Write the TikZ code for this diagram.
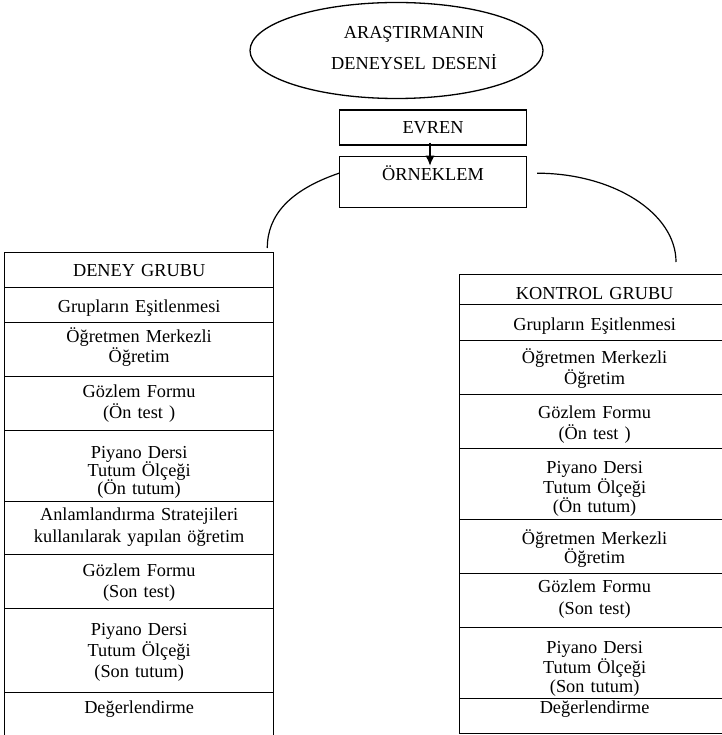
\documentclass[tikz,border=0pt]{standalone}
\usepackage{fontspec}
\setmainfont{Liberation Serif}
\usepackage{tikz}
\usetikzlibrary{shapes.geometric}
\usetikzlibrary{arrows.meta}

\tikzset{
	kutu/.style={draw,line width=1.3pt,anchor=north west,inner sep=0pt,align=center},
	dkutu/.style={kutu,text width=269pt},
	kkutu/.style={kutu,text width=270pt},
	egri/.style={line width=1.2pt},
}

\begin{document}
\begin{tikzpicture}[x=1pt,y=-1pt,every node/.style={font=\fontsize{18.3}{21.7}\selectfont}]
	\useasboundingbox (0,0) rectangle (721,735);
	% baslik
	\node[ellipse,draw,line width=1.3pt,minimum width=293pt,minimum height=96pt] (desen) at (396.5,50.5) {};
	\node[anchor=base,align=center,text width=220pt] (desenyazi) at (414,39) {ARAŞTIRMANIN\\[9pt]DENEYSEL DESENİ};
	\node[kutu,text width=186.7pt,text height=23.7pt,text depth=11.3pt] (evren) at (339,109.3) {EVREN};
	\node[kutu,text width=186.7pt,text height=24.3pt,text depth=26.7pt] (ornek) at (339,155.7) {ÖRNEKLEM};
	\draw[-{Latex[length=10pt,width=9pt]},line width=1.2pt] ([xshift=-3pt,yshift=3pt]evren.south) -- ([xshift=-3pt,yshift=-10pt]ornek.north);
	\coordinate (solucu) at (267.3,248);
	\coordinate (sagucu) at (676,262);
	\draw[egri] ([yshift=-17.5pt]ornek.north west) .. controls (290,190) and (267.3,215) .. (solucu);
	\draw[egri] ([xshift=10pt,yshift=-17.5pt]ornek.north east) .. controls (613,173.2) and (676,213) .. (sagucu);
	% deney grubu
	\node[dkutu,text height=24pt,text depth=11pt] (d1) at (4,252) {DENEY GRUBU};
	\node[dkutu,text height=24.5pt,text depth=10.5pt] (d2) at (4,287) {Grupların Eşitlenmesi};
	\node[dkutu,text height=20pt,text depth=34pt] (d3) at (4,322) {Öğretmen Merkezli\\[-1.7pt]Öğretim};
	\node[dkutu,text height=20.5pt,text depth=33.5pt] (d4) at (4,376) {Gözlem Formu\\(Ön test )};
	\node[dkutu,text height=28pt,text depth=43pt] (d5) at (4,430) {Piyano Dersi\\[-3.7pt]Tutum Ölçeği\\[-3.7pt](Ön tutum)};
	\node[dkutu,text height=19pt,text depth=34pt] (d6) at (4,501) {Anlamlandırma Stratejileri\\kullanılarak yapılan öğretim};
	\node[dkutu,text height=21.5pt,text depth=32.5pt] (d7) at (4,554) {Gözlem Formu\\[-0.7pt](Son test)};
	\node[dkutu,text height=26.5pt,text depth=57.5pt] (d8) at (4,608) {Piyano Dersi\\[-0.7pt]Tutum Ölçeği\\[-0.7pt](Son tutum)};
	\node[dkutu,text height=21pt,text depth=29pt] (d9) at (4,692) {Değerlendirme};
	% kontrol grubu
	\node[kkutu,text height=25pt,text depth=5pt] (k1) at (459,274) {KONTROL GRUBU};
	\node[kkutu,text height=26pt,text depth=10pt] (k2) at (459,304) {Grupların Eşitlenmesi};
	\node[kkutu,text height=23pt,text depth=31pt] (k3) at (459,340) {Öğretmen Merkezli\\[-1.2pt]Öğretim};
	\node[kkutu,text height=23.5pt,text depth=30.5pt] (k4) at (459,394) {Gözlem Formu\\[-0.7pt](Ön test )};
	\node[kkutu,text height=25pt,text depth=46pt] (k5) at (459,448) {Piyano Dersi\\[-2.2pt]Tutum Ölçeği\\[-2.2pt](Ön tutum)};
	\node[kkutu,text height=25pt,text depth=29pt] (k6) at (459,519) {Öğretmen Merkezli\\[-2.7pt]Öğretim};
	\node[kkutu,text height=19pt,text depth=35pt] (k7) at (459,573) {Gözlem Formu\\(Son test)};
	\node[kkutu,text height=26pt,text depth=45pt] (k8) at (459,627) {Piyano Dersi\\[-2.2pt]Tutum Ölçeği\\[-2.2pt](Son tutum)};
	\node[kkutu,text height=15pt,text depth=20pt] (k9) at (459,698) {Değerlendirme};
\end{tikzpicture}
\end{document}
